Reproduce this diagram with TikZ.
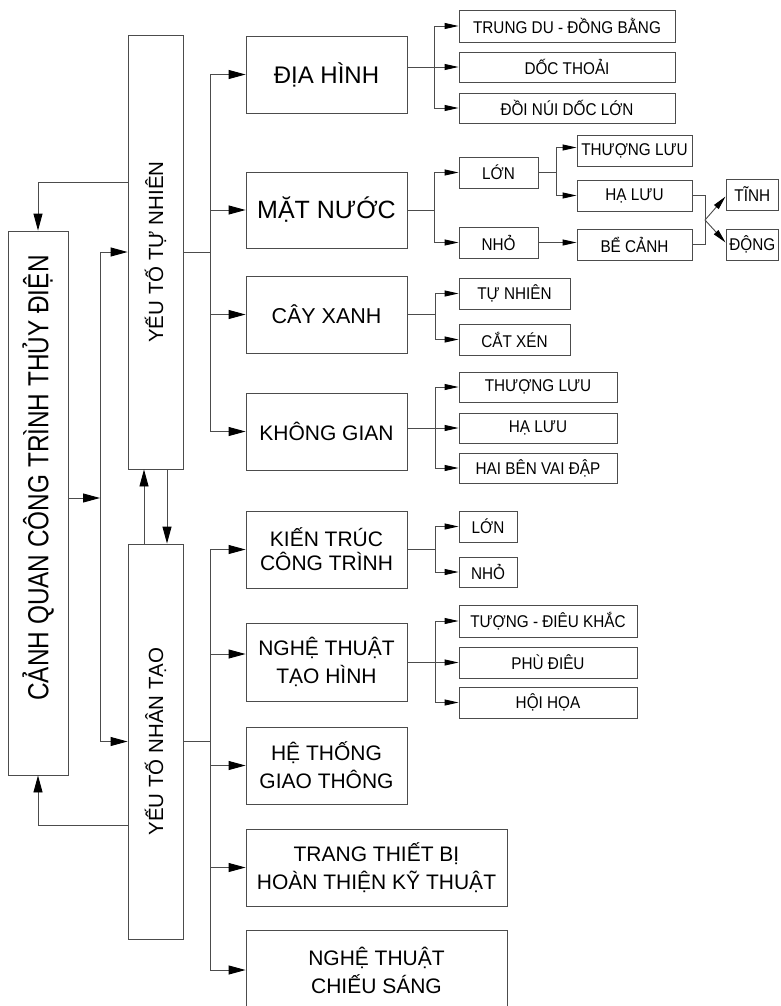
\documentclass[tikz,border=0pt]{standalone}
\usepackage{fontspec}
\setmainfont{Liberation Sans}
\newfontfamily\condsmall[FakeStretch=0.9]{Liberation Sans}
\newfontfamily\condtitle[FakeStretch=0.84]{Liberation Sans}
\usepackage{graphicx}
\usetikzlibrary{arrows.meta}

\begin{document}
\begin{tikzpicture}[x=1pt,y=-1pt,
  box/.style={draw=black!70, line width=0.9pt, inner sep=0pt, align=center, text=black},
  sbox/.style={box, font=\condsmall\fontsize{17}{19}\selectfont},
  mbox/.style={box, minimum width=161pt, minimum height=77pt, font=\fontsize{21}{28}\selectfont},
  ln/.style={draw=black!70, line width=0.9pt},
  arr/.style={ln, -{Triangle[length=17pt,width=9pt,color=black]}},
  sarr/.style={ln, -{Triangle[length=14pt,width=6pt,color=black]}},
]
\useasboundingbox (0,0) rectangle (780,1006);
\fill[white] (0,0) rectangle (780,1006);
\clip (0,0) rectangle (780,1006);

% column 1
\node[box, minimum width=60pt, minimum height=544pt, font=\condtitle\fontsize{29}{32}\selectfont] (title) at (38,503) {\rotatebox{90}{\hspace*{50pt}CẢNH QUAN CÔNG TRÌNH THỦY ĐIỆN}};
\node[box, minimum width=55pt, minimum height=434pt, font=\fontsize{20.5}{24}\selectfont] (ytn) at (155.5,252) {\rotatebox{90}{YẾU TỐ TỰ NHIÊN}};
\node[box, minimum width=55pt, minimum height=395pt, font=\fontsize{20.5}{24}\selectfont] (ytnt) at (155.5,741.5) {\rotatebox{90}{YẾU TỐ NHÂN TẠO}};

% column 2
\node[mbox, font=\fontsize{24}{28}\selectfont] (dh) at (326.5,74.5) {ĐỊA HÌNH};
\node[mbox, minimum height=76pt, font=\fontsize{25}{28}\selectfont] (mn) at (326.5,210) {MẶT NƯỚC};
\node[mbox, font=\fontsize{21.5}{28}\selectfont] (cx) at (326.5,314.5) {CÂY XANH};
\node[mbox] (kg) at (326.5,431.5) {KHÔNG GIAN};
\node[mbox, font=\fontsize{21}{24}\selectfont] (kt) at (326.5,549.5) {KIẾN TRÚC\\CÔNG TRÌNH};
\node[mbox, minimum height=78pt] (ntth) at (326.5,662) {NGHỆ THUẬT\\TẠO HÌNH};
\node[mbox] (htgt) at (326.5,765.5) {HỆ THỐNG\\GIAO THÔNG};
\node[mbox, minimum width=261pt] (ttb) at (376.5,867.5) {TRANG THIẾT BỊ\\HOÀN THIỆN KỸ THUẬT};
\node[mbox, minimum width=261pt, minimum height=80pt] (ntcs) at (376.5,970) {NGHỆ THUẬT\\CHIẾU SÁNG};

% column 3
\node[sbox, minimum width=216pt, minimum height=32pt] (trung) at (567,26) {TRUNG DU - ĐỒNG BẰNG};
\node[sbox, minimum width=216pt, minimum height=30pt] (doc) at (567,67) {DỐC THOẢI};
\node[sbox, minimum width=216pt, minimum height=30pt] (doi) at (567,108) {ĐỒI NÚI DỐC LỚN};
\node[sbox, minimum width=79pt, minimum height=31pt] (lon1) at (498.5,172.5) {LỚN};
\node[sbox, minimum width=79pt, minimum height=31pt] (nho1) at (498.5,242.5) {NHỎ};
\node[sbox, minimum width=115pt, minimum height=31pt] (tl1) at (634.5,150.5) {THƯỢNG LƯU};
\node[sbox, minimum width=115pt, minimum height=31pt] (hl1) at (634.5,195.5) {HẠ LƯU};
\node[sbox, minimum width=115pt, minimum height=31pt] (bc) at (634.5,244.5) {BỂ CẢNH};
\node[sbox, minimum width=52.5pt, minimum height=31pt] (tinh) at (752.25,194.5) {TĨNH};
\node[sbox, minimum width=52.5pt, minimum height=31pt] (dong) at (752.25,244.5) {ĐỘNG};
\node[sbox, minimum width=111pt, minimum height=31pt] (tn) at (514.5,293.5) {TỰ NHIÊN};
\node[sbox, minimum width=111pt, minimum height=31pt] (cxen) at (514.5,339.5) {CẮT XÉN};
\node[sbox, minimum width=158pt, minimum height=30pt] (tl2) at (538,387) {THƯỢNG LƯU};
\node[sbox, minimum width=158pt, minimum height=30pt] (hl2) at (538,428) {HẠ LƯU};
\node[sbox, minimum width=158pt, minimum height=30pt] (hai) at (538,468) {HAI BÊN VAI ĐẬP};
\node[sbox, minimum width=58pt, minimum height=31pt] (lon2) at (488,526.5) {LỚN};
\node[sbox, minimum width=58pt, minimum height=30pt] (nho2) at (488,572) {NHỎ};
\node[sbox, minimum width=178pt, minimum height=32pt] (tuong) at (548,621) {TƯỢNG - ĐIÊU KHẮC};
\node[sbox, minimum width=178pt, minimum height=31pt] (phu) at (548,662.5) {PHÙ ĐIÊU};
\node[sbox, minimum width=178pt, minimum height=31pt] (hoi) at (548,702.5) {HỘI HỌA};

% left connectors
\coordinate (t1) at (0,182);
\coordinate (t2) at (0,825);
\draw[arr] (ytn.west |- t1) -| (title.north);
\draw[arr] (ytnt.west |- t2) -| (title.south);
\coordinate (b0) at (100,498);
\draw[arr] (title.east |- b0) -- (b0);
\draw[arr] (b0) |- (ytn);
\draw[arr] (b0) |- (ytnt);
\draw[arr] ([xshift=-11.5pt]ytnt.north) -- ([xshift=-11.5pt]ytn.south);
\draw[arr] ([xshift=11.5pt]ytn.south) -- ([xshift=11.5pt]ytnt.north);

% column 2 buses
\coordinate (bA) at (210,252);
\draw[ln] (ytn.east) -- (bA);
\foreach \n in {dh,mn,cx,kg} \draw[arr] (bA) |- (\n);
\coordinate (bB) at (210,741.5);
\draw[ln] (ytnt.east) -- (bB);
\foreach \n in {kt,htgt,ttb,ntcs} \draw[arr] (bB) |- (\n);
\draw[arr] (bB) |- ([yshift=8pt]ntth.west);

% DIA HINH
\coordinate (bC) at (434,67);
\draw[sarr] (dh.east |- doc) -- (doc);
\draw[sarr] (bC) |- (trung);
\draw[sarr] (bC) |- (doi);

% MAT NUOC
\coordinate (bD) at (434,210);
\draw[ln] (mn.east) -- (bD);
\draw[sarr] (bD) |- (lon1);
\draw[sarr] (bD) |- (nho1);
\coordinate (bE) at (556,172.5);
\draw[ln] (lon1.east) -- (bE);
\draw[sarr] (bE) |- ([yshift=3pt]tl1.west);
\draw[sarr] (bE) |- (hl1);
\draw[sarr] (nho1.east) -- (nho1.east -| bc.west);
\coordinate (bF) at (705,220);
\draw[ln] (hl1.east) -| (bF) |- (bc.east);
\draw[sarr] (bF) -- ([yshift=-2pt]tinh.west);
\draw[sarr] (bF) -- ([yshift=2pt]dong.west);

% CAY XANH
\coordinate (bG) at (435,314.5);
\draw[ln] (cx.east) -- (bG);
\draw[sarr] (bG) |- (tn);
\draw[sarr] (bG) |- (cxen);

% KHONG GIAN
\coordinate (bH) at (435,428);
\draw[sarr] (kg.east |- hl2) -- (hl2);
\draw[sarr] (bH) |- (tl2);
\draw[sarr] (bH) |- (hai);

% KIEN TRUC
\coordinate (bI) at (435,549.5);
\draw[ln] (kt.east) -- (bI);
\draw[sarr] (bI) |- (lon2);
\draw[sarr] (bI) |- (nho2);

% NGHE THUAT TAO HINH
\coordinate (bJ) at (435,662.5);
\draw[sarr] (ntth.east |- phu) -- (phu);
\draw[sarr] (bJ) |- (tuong);
\draw[sarr] (bJ) |- (hoi);
\end{tikzpicture}
\end{document}
